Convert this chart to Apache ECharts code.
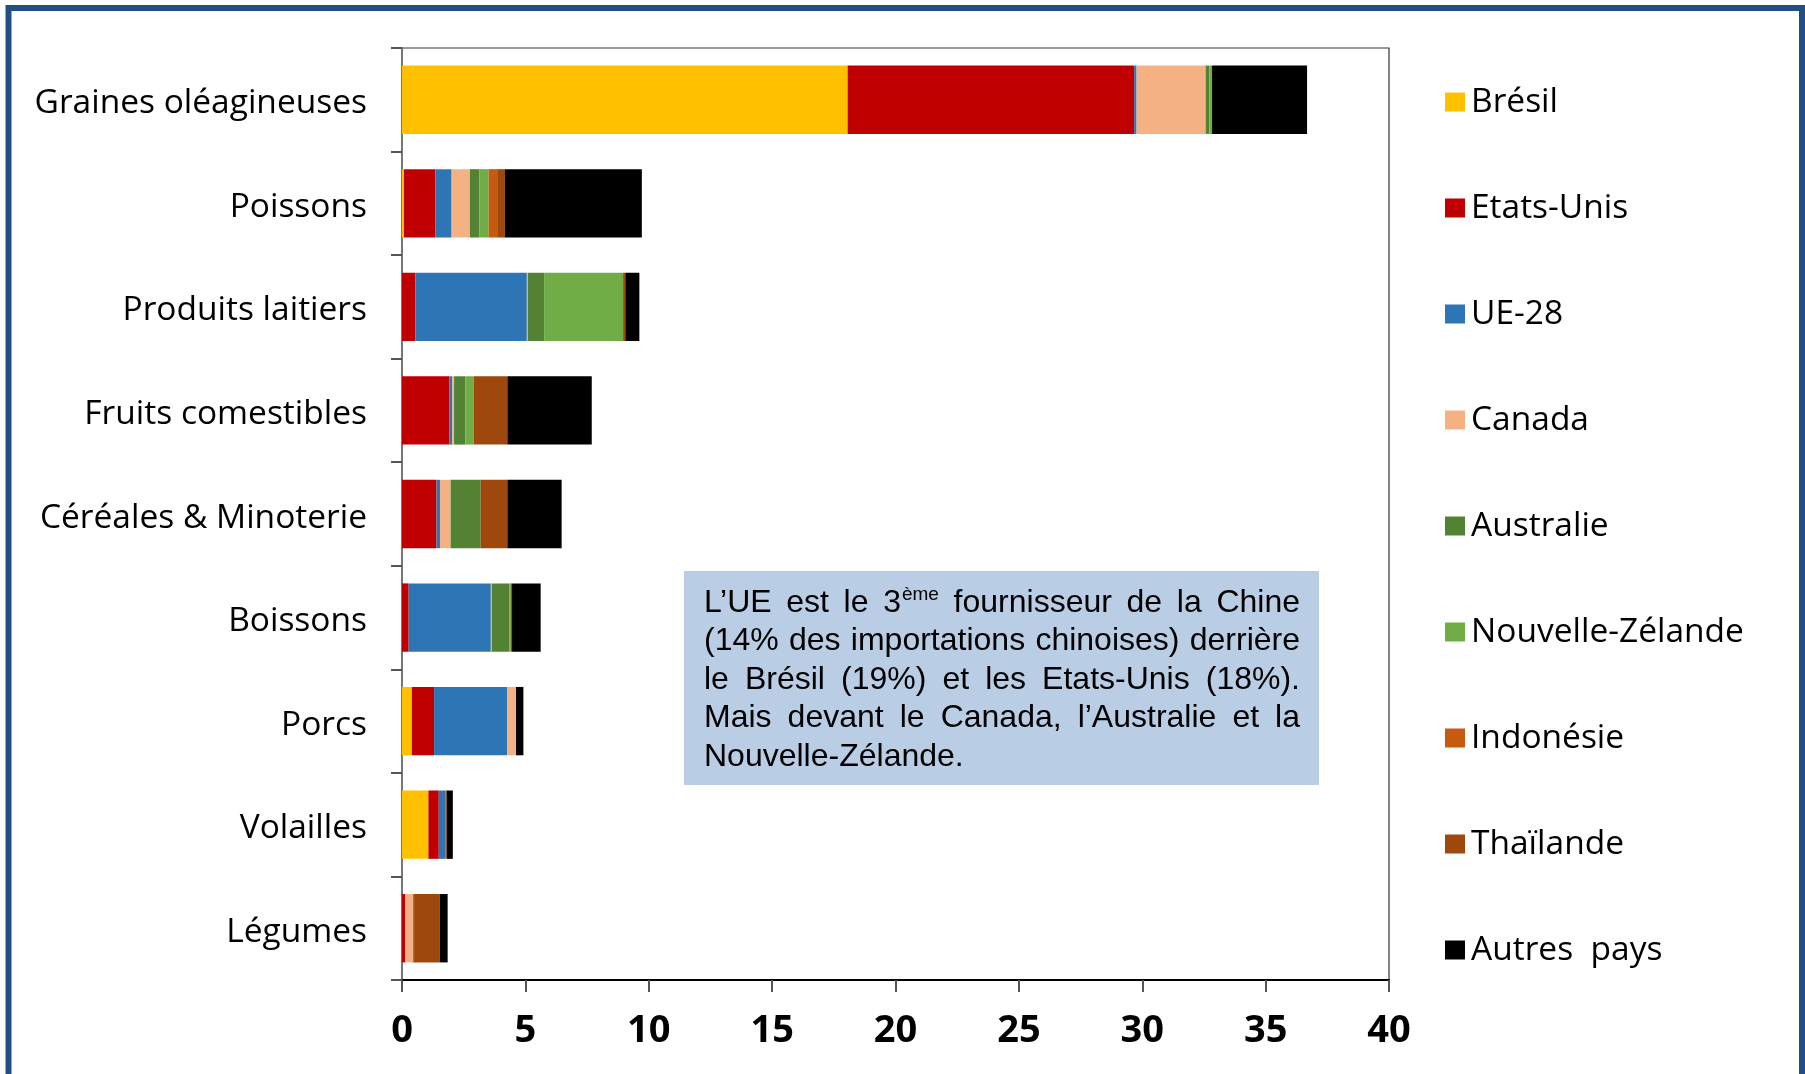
<!DOCTYPE html>
<html>
<head>
<meta charset="utf-8">
<script src="https://cdn.jsdelivr.net/npm/echarts@6/dist/echarts.min.js"></script>
<style>
html,body{margin:0;padding:0;background:#fff;}
#chart{width:1805px;height:1074px;}
</style>
</head>
<body>
<div id="chart"></div>
<script>
const categories = ['Graines oléagineuses','Poissons','Produits laitiers','Fruits comestibles','Céréales & Minoterie','Boissons','Porcs','Volailles','Légumes'];
const seriesNames = ['Brésil','Etats-Unis','UE-28','Canada','Australie','Nouvelle-Zélande','Indonésie','Thaïlande','Autres  pays'];
const bresil    = [18.06, 0.08, 0,    0,    0,    0,    0.40, 1.07, 0   ];
const etatsUnis = [11.61, 1.27, 0.54, 1.92, 1.40, 0.27, 0.90, 0.42, 0.13];
const ue28      = [0.10,  0.66, 4.52, 0.12, 0.14, 3.33, 2.96, 0.26, 0   ];
const canada    = [2.80,  0.74, 0.04, 0.07, 0.43, 0.04, 0.36, 0,    0.32];
const australie = [0.15,  0.38, 0.66, 0.46, 1.22, 0.72, 0,    0.03, 0.04];
const nz        = [0.07,  0.38, 3.20, 0.34, 0,    0.05, 0,    0,    0   ];
const indonesie = [0.02,  0.38, 0,    0,    0,    0,    0,    0,    0   ];
const thailande = [0.02,  0.28, 0.09, 1.36, 1.08, 0.05, 0,    0.04, 1.04];
const autres    = [3.85,  5.55, 0.57, 3.42, 2.20, 1.16, 0.30, 0.24, 0.32];
const xTicks = [0,5,10,15,20,25,30,35,40];
const noteLines = [
  ['L’UE','est','le','3|ème','fournisseur','de','la','Chine'],
  ['(14%','des','importations','chinoises)','derrière'],
  ['le','Brésil','(19%)','et','les','Etats-Unis','(18%).'],
  ['Mais','devant','le','Canada,','l’Australie','et','la'],
  ['Nouvelle-Zélande.']
];

const allData = [bresil, etatsUnis, ue28, canada, australie, nz, indonesie, thailande, autres];
const colors = ['#ffc000','#c00000','#2e75b6','#f4b183','#548235','#70ad47','#c55a11','#9e480e','#000000'];

const chart = echarts.init(document.getElementById('chart'));

// Justified note text
const noteFont = 32, supFont = 19, fam = '"Liberation Sans", Arial, sans-serif';
const ctx = document.createElement('canvas').getContext('2d');
function w(t, fs){ ctx.font = fs + 'px ' + fam; return ctx.measureText(t).width; }
const noteLeft = 704, noteRight = 1300, noteTop0 = 603, noteStep = 38.5;
const noteGraphics = [];
function txt(x, y, t, fs){
  return {type:'text', x:x, y:y, z:60, style:{text:t, fontSize: fs, fontFamily: fam, fill:'#000', verticalAlign:'middle', align:'left'}};
}
noteLines.forEach((words, li) => {
  const widths = words.map(t => {
    if (t.indexOf('|') >= 0) { const p = t.split('|'); return w(p[0], noteFont) + w(p[1], supFont) + 1; }
    return w(t, noteFont);
  });
  const total = widths.reduce((a,b)=>a+b,0);
  const last = li === noteLines.length - 1;
  const gap = (last || words.length < 2) ? w(' ', noteFont) : (noteRight - noteLeft - total) / (words.length - 1);
  let x = noteLeft;
  const y = noteTop0 + li * noteStep;
  words.forEach((t, i) => {
    if (t.indexOf('|') >= 0) {
      const p = t.split('|');
      noteGraphics.push(txt(x, y, p[0], noteFont));
      noteGraphics.push(txt(x + w(p[0], noteFont) + 1, y - 8, p[1], supFont));
    } else {
      noteGraphics.push(txt(x, y, t, noteFont));
    }
    x += widths[i] + gap;
  });
});

const option = {
  backgroundColor: '#ffffff',
  animation: false,
  color: colors,
  grid: { left: 402, right: 416, top: 48, bottom: 94, show: true, borderColor: '#333', borderWidth: 1.2, backgroundColor: 'transparent' },
  legend: {
    orient: 'vertical',
    left: 1440,
    top: 79,
    itemWidth: 20,
    itemHeight: 19,
    itemGap: 70,
    icon: 'rect',
    data: seriesNames,
    selectedMode: false,
    textStyle: { fontFamily: '"Open Sans", sans-serif', fontSize: 33.5, color: '#000', lineHeight: 36, padding: [0,0,0,1] }
  },
  xAxis: {
    type: 'value',
    min: 0, max: 40, interval: 5,
    axisLine: { show: true, lineStyle: { color: '#000', width: 2 } },
    axisTick: { show: true, length: 12, lineStyle: { color: '#555', width: 2 } },
    splitLine: { show: false },
    axisLabel: { fontFamily: '"Open Sans", sans-serif', fontWeight: 'bold', fontSize: 38, color: '#000', margin: 32,
      formatter: v => xTicks.indexOf(v) >= 0 ? String(v) : '' }
  },
  yAxis: {
    type: 'category',
    data: categories,
    inverse: true,
    axisLine: { show: true, lineStyle: { color: '#777', width: 2 } },
    axisTick: { show: true, length: 11, alignWithLabel: false, lineStyle: { color: '#555', width: 2 } },
    axisLabel: { margin: 35, formatter: v => '{c|' + v + '}',
      rich: { c: { fontFamily: '"Open Sans", sans-serif', fontSize: 33.5, color: '#000', lineHeight: 40, padding: [8,0,0,0] } } }
  },
  series: allData.map((d, i) => ({
    name: seriesNames[i],
    type: 'bar',
    stack: 'total',
    barWidth: '66%',
    data: d,
    itemStyle: { color: colors[i] }
  })),
  graphic: [
    { type: 'rect', shape: { x: 8.5, y: 8, width: 1793.5, height: 1120 }, style: { fill: 'none', stroke: '#224e86', lineWidth: 6 }, z: 100 },
    { type: 'rect', shape: { x: 684, y: 571, width: 635, height: 214 }, style: { fill: '#b9cde5' }, z: 50 }
  ].concat(noteGraphics)
};
chart.setOption(option);
</script>
</body>
</html>
